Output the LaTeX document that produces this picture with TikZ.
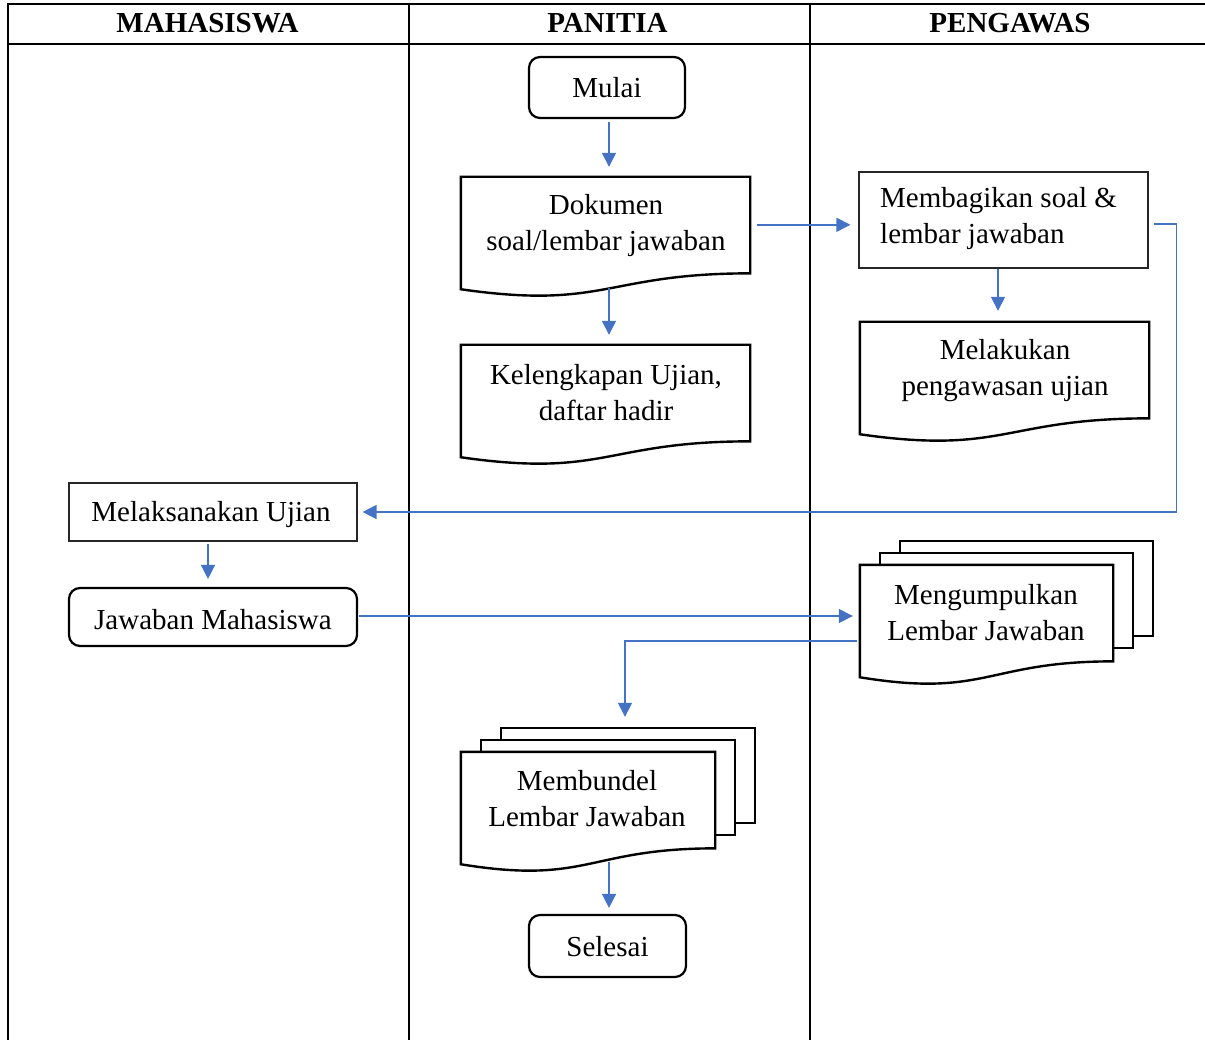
\documentclass[tikz,border=0pt]{standalone}
\usepackage{fontspec}
\setmainfont{Liberation Serif}
\usetikzlibrary{calc,arrows.meta}
\definecolor{flowblue}{HTML}{4472C4}

% document symbol with a wavy lower edge, drawn around an empty node
\newcommand\docshape[1]{%
  \draw[docline] (#1.north west) -- (#1.north east)
    -- ($(#1.north east)!0.802!(#1.south east)$)
    .. controls ($(#1.north)!0.802!(#1.south)$) and ($(#1.north)!1.107!(#1.south)$)
    .. ($(#1.north west)!0.934!(#1.south west)$) -- cycle;}
% two sheets stacked behind a document symbol
\newcommand\backsheets[1]{%
  \draw[docline] ($(#1.north west)+(20,0)$) -- ++(0,-12)
    -- ($(#1.north east)+(20,-12)$) -- ($(#1.north east)+(20,83)$)
    -- ($(#1.north east)+(0,83)$);
  \draw[docline] ($(#1.north west)+(40,-12)$) -- ++(0,-12)
    -- ($(#1.north east)+(40,-24)$) -- ($(#1.north east)+(40,71)$)
    -- ($(#1.north east)+(20,71)$);}

\begin{document}
\begin{tikzpicture}[x=1pt,y=-1pt,
  every node/.style={font=\fontsize{29}{36}\selectfont, inner sep=0pt},
  hdr/.style={font=\fontsize{29}{36}\selectfont\bfseries},
  grid/.style={line width=2pt, black},
  docline/.style={line width=2.4pt, black, line join=miter},
  startstop/.style={draw, line width=2.2pt, rounded corners=11pt},
  plainbox/.style={draw=black!85, line width=1.2pt},
  docbox/.style={minimum width=#1, minimum height=120pt},
  flow/.style={draw=flowblue, line width=1.5pt, -{Triangle[length=14pt,width=14pt]}},
  label/.style={align=center}
]
\useasboundingbox (0,0) rectangle (1205,1040);

% swimlane table
\draw[grid] (7,4) -- (1205,4);
\draw[grid] (7,44) -- (1205,44);
\draw[grid] (8,3) -- (8,1040);
\draw[grid] (409,4) -- (409,1040);
\draw[grid] (810,4) -- (810,1040);
\node[hdr] (hm) at (207.5,23) {MAHASISWA};
\node[hdr] (hp) at (607.5,23) {PANITIA};
\node[hdr] (hw) at (1010,23) {PENGAWAS};

% PANITIA lane
\node[startstop, minimum width=156pt, minimum height=61pt] (mulai) at (607,87.5) {Mulai};
\node[docbox=289pt] (dok) at (605.5,237) {};
\docshape{dok}
\node[label] (dokT) at (606,225.5) {Dokumen\\soal/lembar jawaban};
\node[docbox=289pt] (kel) at (605.5,405) {};
\docshape{kel}
\node[label] (kelT) at (606,392.5) {Kelengkapan Ujian,\\daftar hadir};
\node[docbox=254pt] (bundel) at (588,812) {};
\backsheets{bundel}
\docshape{bundel}
\node[label] (bundelT) at (587,799) {Membundel\\Lembar Jawaban};
\node[startstop, minimum width=157pt, minimum height=62pt] (selesai) at (607.5,946) {};
\node (selesaiT) at (607.5,947) {Selesai};

% PENGAWAS lane
\node[plainbox, minimum width=289pt, minimum height=96pt] (bagi) at (1003.5,220) {};
\node[align=left, anchor=west] (bagiT) at (880,219) {Membagikan soal \&\\lembar jawaban};
\node[docbox=289pt] (lak) at (1004.5,382) {};
\docshape{lak}
\node[label] (lakT) at (1005,370.5) {Melakukan\\pengawasan ujian};
\node[docbox=253pt] (kumpul) at (986.5,625) {};
\backsheets{kumpul}
\docshape{kumpul}
\node[label] (kumpulT) at (986,613) {Mengumpulkan\\Lembar Jawaban};

% MAHASISWA lane
\node[plainbox, minimum width=288pt, minimum height=58pt] (laksana) at (213,512) {};
\node (laksanaT) at (211,514.5) {Melaksanakan Ujian};
\node[startstop, minimum width=288pt, minimum height=58pt] (jawab) at (213,617) {};
\node (jawabT) at (213,620) {Jawaban Mahasiswa};

% connectors
\coordinate (a1) at ($(mulai.south)+(2,3)$);
\draw[flow, shorten >=10pt] (a1) -- (a1 |- dok.north);
\coordinate (a2) at ($(dok.south)+(3.5,-9)$);
\draw[flow, shorten >=10pt] (a2) -- (a2 |- kel.north);
\coordinate (a3) at ($(dok.north east)+(7,48)$);
\draw[flow, shorten >=8pt] (a3) -- (a3 -| bagi.west);
\coordinate (a4) at ($(bagi.south)+(-5.5,0)$);
\draw[flow, shorten >=11pt] (a4) -- (a4 |- lak.north);
\coordinate (a5) at ($(bagi.east)+(5,4)$);
\draw[flow, shorten >=5pt] (a5) -- ++(23,0) |- (laksana.east);
\coordinate (a6) at ($(laksana.south)+(-5,2)$);
\draw[flow, shorten >=8pt] (a6) -- (a6 |- jawab.north);
\coordinate (a7) at ($(jawab.east)+(1,-1)$);
\draw[flow, shorten >=7pt] (a7) -- (a7 -| kumpul.west);
\coordinate (a8) at ($(kumpul.west)+(-3,16)$);
\coordinate (b8) at ($(bundel.north)+(37,-25)$);
\draw[flow, shorten >=10pt] (a8) -| (b8);
\coordinate (a9) at ($(bundel.south)+(21,-10)$);
\draw[flow, shorten >=6pt] (a9) -- (a9 |- selesai.north);
\end{tikzpicture}
\end{document}
